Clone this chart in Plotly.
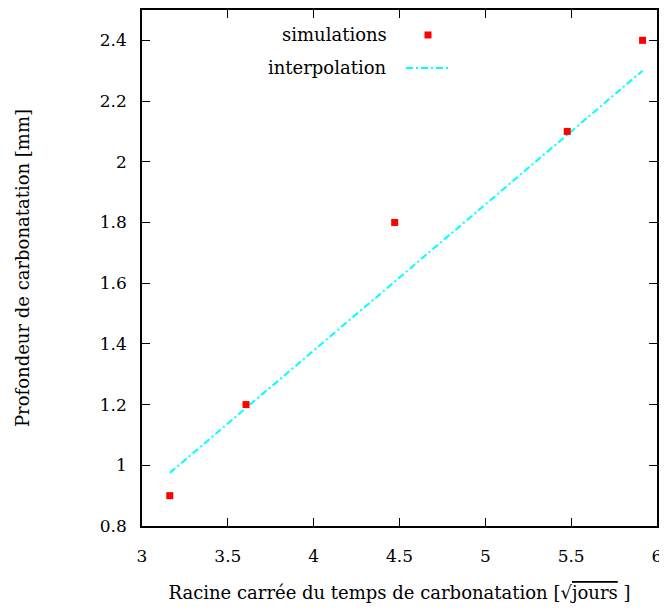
import plotly.graph_objects as go

sim_x = [3.162, 3.606, 4.472, 5.477, 5.916]
sim_y = [0.9, 1.2, 1.8, 2.1, 2.4]
interp_x = [3.162, 3.606, 4.472, 5.477, 5.916]
interp_y = [0.975, 1.189, 1.605, 2.089, 2.30]

x_ticks = [3, 3.5, 4, 4.5, 5, 5.5, 6]
y_ticks = [0.8, 1, 1.2, 1.4, 1.6, 1.8, 2, 2.2, 2.4]

FONT = "DejaVu Serif"
CYAN = "#00ffff"
RED = "#ff0000"
DASH = "7px,3px,2px,3px"

fig = go.Figure()
fig.add_trace(go.Scatter(x=interp_x, y=interp_y, mode="lines",
                         line=dict(color=CYAN, width=2, dash=DASH),
                         name="interpolation", showlegend=False))
fig.add_trace(go.Scatter(x=sim_x, y=sim_y, mode="markers",
                         marker=dict(symbol="square", size=7, color=RED),
                         name="simulations", showlegend=False))

axis_common = dict(showgrid=False, zeroline=False, showline=True, linecolor="black",
                   linewidth=1.5, mirror="ticks", ticks="inside", ticklen=8,
                   tickwidth=1.2, tickcolor="black", automargin=False,
                   tickfont=dict(family=FONT, size=17, color="black"))

fig.update_xaxes(range=[3, 6], tickvals=x_ticks, ticktext=[f"{v:g}" for v in x_ticks],
                 ticklabelstandoff=14,
                 title=dict(text="Racine carrée du temps de carbonatation [√<span style='text-decoration:overline'>jours</span> ]",
                            font=dict(family=FONT, size=18, color="black"), standoff=29),
                 **axis_common)
fig.update_yaxes(range=[0.8, 2.5], tickvals=y_ticks, ticktext=[f"{v:g}" for v in y_ticks],
                 ticklabelstandoff=10,
                 title=dict(text="Profondeur de carbonatation [mm]",
                            font=dict(family=FONT, size=18, color="black"), standoff=66),
                 **axis_common)

# legend (gnuplot style: text left, key right)
fig.add_annotation(xref="paper", yref="paper", x=0.4796, y=0.9516, xanchor="right", yanchor="middle",
                   text="simulations", showarrow=False, font=dict(family=FONT, size=18, color="black"))
fig.add_annotation(xref="paper", yref="paper", x=0.4796, y=0.8876, xanchor="right", yanchor="middle",
                   text="interpolation", showarrow=False, font=dict(family=FONT, size=18, color="black"))
fig.add_shape(type="rect", xref="paper", yref="paper", xsizemode="pixel", ysizemode="pixel",
              xanchor=0.5553, yanchor=0.9516, x0=-3.5, x1=3.5, y0=-3.5, y1=3.5,
              fillcolor=RED, line=dict(width=0))
fig.add_shape(type="line", xref="paper", yref="paper", x0=0.5126, x1=0.5942, y0=0.8876, y1=0.8876,
              line=dict(color=CYAN, width=2, dash=DASH))

# page body has an 8px margin: size the figure so the page is exactly the window size
fig.update_layout(width=659, height=595, margin=dict(l=134, r=10, t=2, b=77),
                  plot_bgcolor="white", paper_bgcolor="white",
                  font=dict(family=FONT, color="black"))

fig.write_html("out.html", config={"displayModeBar": False})
